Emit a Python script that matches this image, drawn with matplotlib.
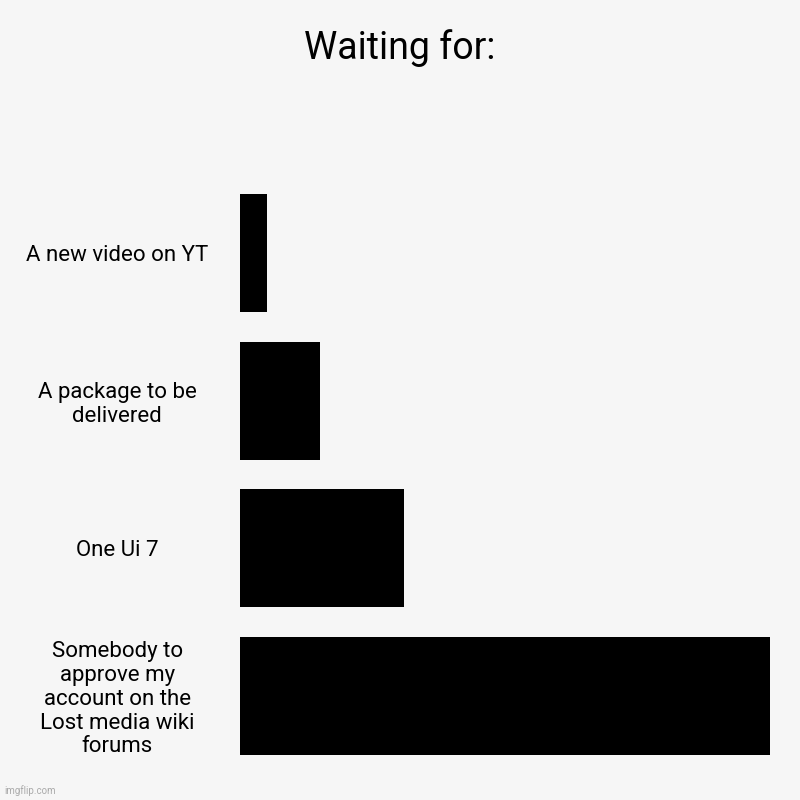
import matplotlib.pyplot as plt

plt.rcParams['font.family'] = ['Roboto', 'DejaVu Sans']

# data
labels = ["A new video on YT",
          "A package to be\ndelivered",
          "One Ui 7",
          "Somebody to\napprove my\naccount on the\nLost media wiki\nforums"]
values = [5, 15, 31, 100]

bg = '#f6f6f6'
fig = plt.figure(figsize=(8, 8), dpi=100, facecolor=bg)
ax = fig.add_axes([0.3, 0.0384, 0.6625, 0.7375])
ax.set_facecolor(bg)

pos = list(range(len(labels)))
ax.barh(pos, values, height=0.8, color='black')
ax.set_ylim(len(labels) - 0.5, -0.5)
ax.set_xlim(0, max(values))

ax.set_yticks(pos)
ax.set_yticklabels(labels, ha='center', multialignment='center',
                   fontsize=16, linespacing=1.17)
ax.tick_params(axis='y', length=0, pad=88.5)
ax.set_xticks([])
for s in ax.spines.values():
    s.set_visible(False)

fig.text(0.5, 1 - 48 / 800, "Waiting for:", ha='center', va='center', fontsize=27)
fig.text(0.006, 0.012, "imgflip.com", color='#aaaaaa', fontsize=7, ha='left', va='center')

fig.savefig('out.png', dpi=100, facecolor=bg)
